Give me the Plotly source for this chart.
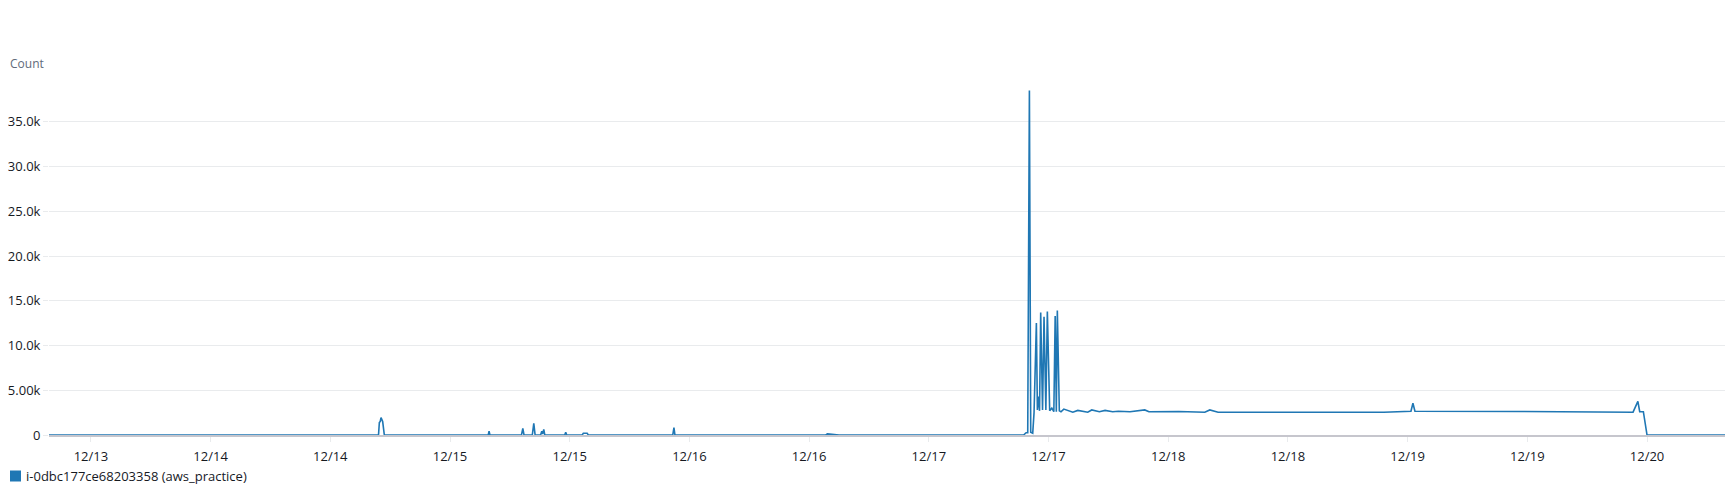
import plotly.graph_objects as go

# ---- data ----
timestamps = [
    "2023-12-13 07:30", "2023-12-14 16:50", "2023-12-14 16:55", "2023-12-14 17:00",
    "2023-12-14 17:05", "2023-12-14 17:15", "2023-12-14 17:25",
    "2023-12-15 03:50", "2023-12-15 03:55", "2023-12-15 04:00",
    "2023-12-15 07:10", "2023-12-15 07:18", "2023-12-15 07:25",
    "2023-12-15 08:15", "2023-12-15 08:24", "2023-12-15 08:32",
    "2023-12-15 09:05", "2023-12-15 09:12", "2023-12-15 09:17", "2023-12-15 09:24", "2023-12-15 09:30",
    "2023-12-15 11:30", "2023-12-15 11:36", "2023-12-15 11:42",
    "2023-12-15 13:15", "2023-12-15 13:22", "2023-12-15 13:45", "2023-12-15 13:52",
    "2023-12-15 22:20", "2023-12-15 22:27", "2023-12-15 22:33",
    "2023-12-16 13:40", "2023-12-16 13:50", "2023-12-16 14:20", "2023-12-16 15:00",
    "2023-12-17 09:30", "2023-12-17 09:45", "2023-12-17 09:55", "2023-12-17 10:05",
    "2023-12-17 10:13", "2023-12-17 10:25", "2023-12-17 10:33", "2023-12-17 10:47",
    "2023-12-17 10:53", "2023-12-17 11:00", "2023-12-17 11:06", "2023-12-17 11:13",
    "2023-12-17 11:24", "2023-12-17 11:33", "2023-12-17 11:44", "2023-12-17 11:53",
    "2023-12-17 12:07", "2023-12-17 12:20", "2023-12-17 12:32", "2023-12-17 12:40",
    "2023-12-17 12:47", "2023-12-17 12:53", "2023-12-17 13:05", "2023-12-17 13:15",
    "2023-12-17 13:32", "2023-12-17 14:26", "2023-12-17 14:56", "2023-12-17 15:56",
    "2023-12-17 16:20", "2023-12-17 17:06", "2023-12-17 17:40", "2023-12-17 18:26",
    "2023-12-17 19:00", "2023-12-17 20:10", "2023-12-17 21:39", "2023-12-17 22:04",
    "2023-12-18 01:04", "2023-12-18 03:40", "2023-12-18 04:10", "2023-12-18 05:00",
    "2023-12-18 21:37", "2023-12-19 00:20", "2023-12-19 00:32", "2023-12-19 00:44",
    "2023-12-19 11:33", "2023-12-19 22:36", "2023-12-19 23:05", "2023-12-19 23:16",
    "2023-12-19 23:38", "2023-12-20 00:00", "2023-12-20 08:30",
]
counts = [
    0, 0, 1400, 1500,
    1950, 1500, 0,
    0, 420, 0,
    0, 750, 0,
    0, 1300, 0,
    0, 420, 100, 620, 0,
    0, 300, 0,
    0, 200, 200, 0,
    0, 820, 0,
    0, 130, 80, 0,
    0, 250, 250, 38500,
    300, 200, 2500, 12500,
    2800, 4300, 2700, 13700,
    2800, 13200, 2800, 13800,
    2700, 3000, 2600, 13300,
    2600, 13900, 2700, 2600,
    2900, 2550, 2750, 2550,
    2800, 2600, 2750, 2600,
    2650, 2600, 2800, 2600,
    2620, 2550, 2800, 2550,
    2550, 2650, 3550, 2650,
    2620, 2550, 3750, 2600,
    2600, 0, 0,
]
series_name = "i-0dbc177ce68203358 (aws_practice)"
y_tick_values = [0, 5000, 10000, 15000, 20000, 25000, 30000, 35000]
y_tick_labels = ["0", "5.00k", "10.0k", "15.0k", "20.0k", "25.0k", "30.0k", "35.0k"]
x_range = ["2023-12-13 07:48", "2023-12-20 07:49"]

# ---- figure ----
W, H = 1736, 494
ML, MR, MT, MB = 41, 19, 69, 67
plot_w = W - ML - MR
plot_h = H - MT - MB
FONT = "Open Sans, Noto Sans, sans-serif"
BLUE = "#1f77b4"

fig = go.Figure()
fig.add_trace(go.Scatter(
    x=timestamps, y=counts, mode="lines", name=series_name,
    line=dict(color=BLUE, width=1.6), showlegend=False,
))

def px_x(p):
    return (p - ML) / plot_w

def px_y(p):
    return (H - MB - p) / plot_h

fig.update_layout(
    width=W, height=H,
    margin=dict(l=ML, r=MR, t=MT, b=MB, autoexpand=False),
    paper_bgcolor="white", plot_bgcolor="white",
    font=dict(family=FONT, size=13, color="#16191f"),
    showlegend=False,
    xaxis=dict(
        type="date", range=x_range,
        tick0="2023-12-13 00:00", dtick=43200000, tickformat="%m/%d",
        showgrid=False, zeroline=False,
        showline=True, linecolor="#c6c6cd", linewidth=2,
        ticks="outside", ticklen=5, tickcolor="#e9ebed", tickwidth=1,
        ticklabelstandoff=3,
        tickfont=dict(family=FONT, size=13, color="#16191f"),
    ),
    yaxis=dict(
        range=[0, 40000], tickvals=y_tick_values, ticktext=y_tick_labels,
        showgrid=True, gridcolor="#e9ebed", gridwidth=1, zeroline=False,
        showline=False,
        ticks="outside", ticklen=5, tickcolor="#e9ebed", tickwidth=1,
        tickfont=dict(family=FONT, size=13, color="#16191f"),
    ),
    annotations=[
        dict(text="Count", xref="paper", yref="paper", x=px_x(0), y=px_y(55),
             xanchor="left", yanchor="middle", showarrow=False,
             font=dict(family=FONT, size=12, color="#5f6b7a")),
        dict(text=series_name, xref="paper", yref="paper", x=px_x(16), y=px_y(468),
             xanchor="left", yanchor="middle", showarrow=False,
             font=dict(family=FONT, size=13, color="#16191f")),
    ],
    shapes=[
        dict(type="rect", xref="paper", yref="paper",
             x0=px_x(2), x1=px_x(13), y0=px_y(462.5), y1=px_y(473.5),
             fillcolor=BLUE, line=dict(width=0)),
    ],
)

fig.write_html("out.html")
